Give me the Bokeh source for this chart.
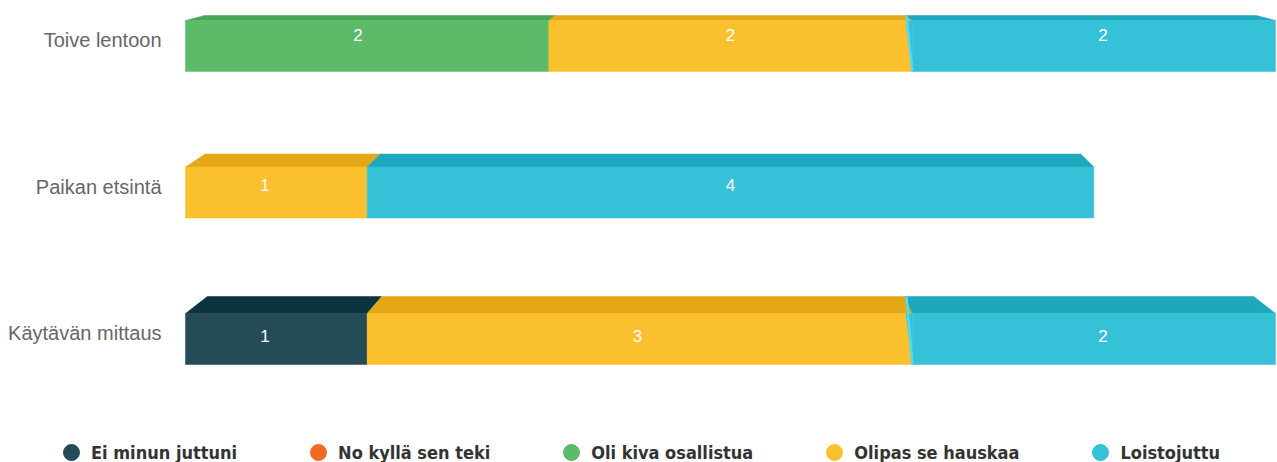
from bokeh.plotting import figure
from bokeh.models import Range1d, Legend, LegendItem
from bokeh.embed import file_html
from bokeh.resources import INLINE
from bokeh.core.properties import value

# ---------------- data ----------------
categories = ["Toive lentoon", "Paikan etsintä", "Käytävän mittaus"]
series_names = ["Ei minun juttuni", "No kyllä sen teki", "Oli kiva osallistua",
                "Olipas se hauskaa", "Loistojuttu"]
ei_minun_juttuni = [0, 0, 1]
no_kylla_sen_teki = [0, 0, 0]
oli_kiva_osallistua = [2, 0, 0]
olipas_se_hauskaa = [2, 1, 3]
loistojuttu = [2, 4, 2]
series_values = [ei_minun_juttuni, no_kylla_sen_teki, oli_kiva_osallistua,
                 olipas_se_hauskaa, loistojuttu]

# ---------------- style / layout ----------------
front_colors = ["#234B58", "#F26A21", "#5CBB69", "#FBC02D", "#35C1D8"]
top_colors = ["#0C3340", "#D4541A", "#48A656", "#E4A817", "#1DA8BE"]
side_color = "#55DAF0"

W, H = 1277, 462
PXX = 1090 / 6.0                 # pixels per value unit
X_START = -185 / PXX
X_END = 6.0 + 2 / PXX
PXY = 146.5                      # pixels per row step
Y_END = 2 + 45.5 / PXY
Y_START = -(H - 338.5) / PXY

row_y = [2, 1, 0]
HALF = 25.5 / PXY
depth_px = [5, 13, 17]
persp_k = [0.035, 0.036, 0.040]
label_rise_px = [11, 8, 3]
CAT_LABEL_X = X_START + 161 / PXX
CAT_LABEL_RISE = 6.0 / PXY

totals = [sum(s[i] for s in series_values) for i in range(len(categories))]
XC = max(totals) / 2.0   # vanishing centre of the 3D projection

p = figure(width=W, height=H, output_backend="svg", toolbar_location=None,
           x_range=Range1d(X_START, X_END), y_range=Range1d(Y_START, Y_END),
           x_axis_location=None, y_axis_location=None,
           min_border_left=0, min_border_right=0, min_border_top=0, min_border_bottom=0,
           outline_line_color=None, background_fill_color="white",
           border_fill_color="white")
p.xgrid.visible = False
p.ygrid.visible = False

fr = dict(left=[], right=[], top=[], bottom=[], color=[])
tp = dict(xs=[], ys=[], color=[])
lb = dict(x=[], y=[], text=[])
tri = dict(xs=[], ys=[], color=[])
sl = dict(xs=[], ys=[])

for r in range(len(categories)):
    yc = row_y[r]
    yft, yfb = yc + HALF, yc - HALF
    d = depth_px[r] / PXY
    k = persp_k[r]
    cum = 0.0
    prev = None
    for j, s in enumerate(series_values):
        v = s[r]
        if v <= 0:
            continue
        x0, x1 = cum, cum + v
        cum = x1
        fr["left"].append(x0); fr["right"].append(x1)
        fr["top"].append(yft); fr["bottom"].append(yfb)
        fr["color"].append(front_colors[j])
        tp["xs"].append([x0, x1, x1 + k * (XC - x1), x0 + k * (XC - x0)])
        tp["ys"].append([yft, yft, yft + d, yft + d])
        tp["color"].append(top_colors[j])
        cm = (x0 + x1) / 2
        lb["x"].append(cm + 0.025 * (cm - XC))
        lb["y"].append(yc + label_rise_px[r] / PXY)
        lb["text"].append(str(v))
        if prev is not None and x0 > XC:
            # the visible left side face of a block right of the vanishing centre
            tri["xs"].append([x0 - 6.5 / PXX, x0, x0])
            tri["ys"].append([yft, yft, yfb])
            tri["color"].append(front_colors[j])
            sl["xs"].append([x0 - 7 / PXX, x0 - 4.5 / PXX, x0 + 1.5 / PXX, x0 - 1 / PXX])
            sl["ys"].append([yft + d, yft + d, yfb, yfb])
        prev = j

p.patches(xs="xs", ys="ys", fill_color="color", line_color="color", line_width=0.5, source=tp)
p.quad(left="left", right="right", top="top", bottom="bottom", fill_color="color",
       line_color="color", line_width=0.5, source=fr)
if tri["xs"]:
    p.patches(xs="xs", ys="ys", fill_color="color", line_color=None, source=tri)
    p.patches(xs="xs", ys="ys", fill_color=side_color, line_color=None, source=sl)

p.text(x="x", y="y", text="text", source=lb, text_color="white", text_align="center",
       text_baseline="middle", text_font_size="17px", text_font=value("Liberation Sans"))

# category labels
p.text(x=[CAT_LABEL_X] * len(categories), y=[y + CAT_LABEL_RISE for y in row_y],
       text=categories, text_align="right", text_baseline="middle", text_font_size="20px",
       text_font=value("Liberation Sans"), text_color="#666666")

# legend
items = []
for j, name in enumerate(series_names):
    r_ = p.scatter(x=[float("nan")], y=[float("nan")], marker="circle", size=16,
                   fill_color=front_colors[j], line_color=front_colors[j])
    items.append(LegendItem(label=name, renderers=[r_]))
legend = Legend(items=items, orientation="horizontal", location=(51, -10),
                glyph_width=40, glyph_height=40, label_standoff=0, spacing=61,
                padding=0, margin=0, border_line_color=None, background_fill_alpha=0,
                label_text_font="'DejaVu Sans Condensed', 'DejaVu Sans', sans-serif",
                label_text_font_style="bold", label_text_font_size="18px",
                label_text_color="#333333")
p.add_layout(legend)

open("out.html", "w").write(file_html(p, INLINE))
